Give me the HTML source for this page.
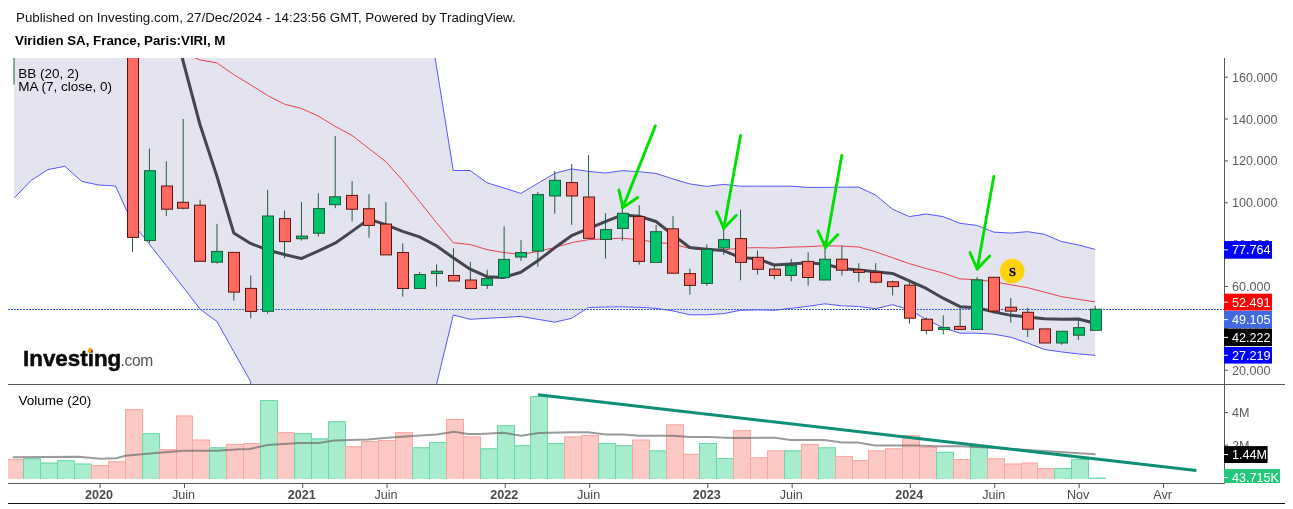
<!DOCTYPE html>
<html><head><meta charset="utf-8"><style>
html,body{margin:0;padding:0;background:#fff;}
body{width:1293px;height:509px;overflow:hidden;position:relative;font-family:"Liberation Sans",sans-serif;}
.t1{position:absolute;left:15.8px;top:9px;font-size:13.35px;color:#111;white-space:nowrap;line-height:17px;}
.t2{position:absolute;left:15px;top:32px;font-size:13.3px;font-weight:bold;color:#000;white-space:nowrap;line-height:17px;}
svg{position:absolute;left:0;top:0;will-change:transform;}
.t1,.t2{will-change:transform;}
</style></head><body>
<div class="t1">Published on Investing.com, 27/Dec/2024 - 14:23:56 GMT, Powered by TradingView.</div>
<div class="t2">Viridien SA, France, Paris:VIRI, M</div>
<svg width="1293" height="509" viewBox="0 0 1293 509">
<defs><clipPath id="pc"><rect x="8" y="58" width="1216" height="326"/></clipPath><clipPath id="vc"><rect x="8" y="385" width="1216" height="98"/></clipPath></defs>
<g clip-path="url(#pc)">
<polygon fill="#e4e4f1" points="14.15,-300.00 31.04,-300.00 47.93,-300.00 64.82,-300.00 81.71,-300.00 98.60,-300.00 115.49,-300.00 132.38,-300.00 149.27,-300.00 166.16,-300.00 183.05,-300.00 199.94,-300.00 216.83,-300.00 233.72,-300.00 250.61,-300.00 267.50,-300.00 284.39,-300.00 301.28,-300.00 318.17,-300.00 335.06,-300.00 351.95,-300.00 368.84,-300.00 385.73,-300.00 402.62,-300.00 419.51,-38.00 436.40,66.00 453.29,170.50 470.18,170.50 487.07,182.80 503.96,188.00 520.85,193.40 537.74,183.40 554.63,173.40 571.52,168.90 588.41,171.40 605.30,173.00 622.19,170.70 639.08,171.70 655.97,173.40 672.86,178.90 689.75,183.90 706.64,186.40 723.53,184.40 740.42,186.20 757.31,186.20 774.20,186.20 791.09,186.20 807.98,187.40 824.87,187.40 841.76,187.20 858.65,187.10 875.54,195.00 892.43,209.10 909.32,216.60 926.21,214.00 943.10,216.60 959.99,223.30 976.88,225.40 993.77,232.10 1010.66,233.10 1027.55,231.70 1044.44,234.30 1061.33,241.50 1078.22,244.90 1095.11,249.40 1095.11,355.40 1078.22,353.90 1061.33,351.90 1044.44,349.50 1027.55,343.00 1010.66,337.20 993.77,334.20 976.88,333.20 959.99,333.20 943.10,327.70 926.21,319.50 909.32,309.60 892.43,304.70 875.54,308.70 858.65,306.50 841.76,305.80 824.87,303.80 807.98,306.30 791.09,308.30 774.20,310.30 757.31,309.90 740.42,310.30 723.53,313.60 706.64,314.80 689.75,314.80 672.86,310.90 655.97,308.30 639.08,307.30 622.19,306.90 605.30,307.00 588.41,307.50 571.52,318.30 554.63,322.20 537.74,319.30 520.85,316.40 503.96,317.40 487.07,318.30 470.18,319.30 453.29,315.00 436.40,385.00 419.51,600.00 402.62,600.00 385.73,600.00 368.84,600.00 351.95,600.00 335.06,600.00 318.17,600.00 301.28,600.00 284.39,600.00 267.50,600.00 250.61,381.50 233.72,351.50 216.83,321.40 199.94,309.00 183.05,287.00 166.16,265.50 149.27,244.00 132.38,223.00 115.49,186.00 98.60,185.00 81.71,181.40 64.82,166.30 47.93,169.60 31.04,180.50 14.15,198.10"/>
<line x1="8" y1="309.5" x2="1224" y2="309.5" stroke="#3d62e2" stroke-width="1" stroke-dasharray="2,1"/>
<polyline fill="none" stroke="#5555ff" stroke-width="1" points="419.51,-38.00 436.40,66.00 453.29,170.50 470.18,170.50 487.07,182.80 503.96,188.00 520.85,193.40 537.74,183.40 554.63,173.40 571.52,168.90 588.41,171.40 605.30,173.00 622.19,170.70 639.08,171.70 655.97,173.40 672.86,178.90 689.75,183.90 706.64,186.40 723.53,184.40 740.42,186.20 757.31,186.20 774.20,186.20 791.09,186.20 807.98,187.40 824.87,187.40 841.76,187.20 858.65,187.10 875.54,195.00 892.43,209.10 909.32,216.60 926.21,214.00 943.10,216.60 959.99,223.30 976.88,225.40 993.77,232.10 1010.66,233.10 1027.55,231.70 1044.44,234.30 1061.33,241.50 1078.22,244.90 1095.11,249.40"/>
<polyline fill="none" stroke="#5555ff" stroke-width="1" points="14.15,198.10 31.04,180.50 47.93,169.60 64.82,166.30 81.71,181.40 98.60,185.00 115.49,186.00 132.38,223.00 149.27,244.00 166.16,265.50 183.05,287.00 199.94,309.00 216.83,321.40 233.72,351.50 250.61,381.50 267.50,600.00 284.39,600.00 301.28,600.00 318.17,600.00 335.06,600.00 351.95,600.00 368.84,600.00 385.73,600.00 402.62,600.00 419.51,600.00 436.40,385.00 453.29,315.00 470.18,319.30 487.07,318.30 503.96,317.40 520.85,316.40 537.74,319.30 554.63,322.20 571.52,318.30 588.41,307.50 605.30,307.00 622.19,306.90 639.08,307.30 655.97,308.30 672.86,310.90 689.75,314.80 706.64,314.80 723.53,313.60 740.42,310.30 757.31,309.90 774.20,310.30 791.09,308.30 807.98,306.30 824.87,303.80 841.76,305.80 858.65,306.50 875.54,308.70 892.43,304.70 909.32,309.60 926.21,319.50 943.10,327.70 959.99,333.20 976.88,333.20 993.77,334.20 1010.66,337.20 1027.55,343.00 1044.44,349.50 1061.33,351.90 1078.22,353.90 1095.11,355.40"/>
<polyline fill="none" stroke="#e8414a" stroke-width="1" points="166.16,40.00 183.05,53.00 199.94,59.90 216.83,62.90 233.72,74.60 250.61,84.80 267.50,95.50 284.39,104.10 301.28,108.40 318.17,116.00 335.06,126.30 351.95,135.40 368.84,148.50 385.73,161.60 402.62,180.30 419.51,201.50 436.40,222.50 453.29,242.70 470.18,244.60 487.07,249.60 503.96,252.50 520.85,254.50 537.74,251.50 554.63,247.60 571.52,242.70 588.41,239.70 605.30,238.80 622.19,238.20 639.08,239.80 655.97,242.20 672.86,244.10 689.75,248.40 706.64,250.00 723.53,250.00 740.42,248.00 757.31,247.70 774.20,248.00 791.09,247.10 807.98,246.70 824.87,245.70 841.76,246.10 858.65,247.00 875.54,251.80 892.43,257.70 909.32,263.60 926.21,268.50 943.10,273.00 959.99,278.90 976.88,279.70 993.77,281.70 1010.66,284.80 1027.55,287.70 1044.44,292.10 1061.33,296.60 1078.22,299.30 1095.11,301.90"/>
<polyline fill="none" stroke="#45454f" stroke-width="3" stroke-linejoin="round" points="166.16,-10.00 183.05,61.00 199.94,124.50 216.83,176.00 233.72,232.90 250.61,243.47 267.50,249.94 284.39,254.57 301.28,258.56 318.17,251.03 335.06,243.23 351.95,231.39 368.84,219.10 385.73,224.66 402.62,231.36 419.51,236.84 436.40,245.79 453.29,257.81 470.18,269.14 487.07,276.74 503.96,277.39 520.85,272.24 537.74,260.83 554.63,247.84 571.52,235.70 588.41,228.53 605.30,221.53 622.19,214.94 639.08,216.21 655.97,221.51 672.86,234.79 689.75,247.56 706.64,249.14 723.53,250.57 740.42,257.59 757.31,258.71 774.20,264.97 791.09,263.90 807.98,262.77 824.87,264.17 841.76,268.54 858.65,269.97 875.54,271.81 892.43,273.40 909.32,280.90 926.21,288.46 943.10,298.20 959.99,306.66 976.88,307.73 993.77,311.86 1010.66,315.36 1027.55,316.93 1044.44,318.73 1061.33,319.29 1078.22,319.03 1095.11,323.21"/>
<line x1="132.53" y1="0.00" x2="132.53" y2="252.00" stroke="#245a3a" stroke-width="1"/>
<line x1="149.42" y1="148.50" x2="149.42" y2="242.80" stroke="#245a3a" stroke-width="1"/>
<line x1="166.31" y1="161.40" x2="166.31" y2="215.90" stroke="#245a3a" stroke-width="1"/>
<line x1="183.2" y1="118.90" x2="183.2" y2="209.20" stroke="#245a3a" stroke-width="1"/>
<line x1="200.09" y1="199.70" x2="200.09" y2="261.30" stroke="#245a3a" stroke-width="1"/>
<line x1="216.98" y1="223.90" x2="216.98" y2="263.60" stroke="#245a3a" stroke-width="1"/>
<line x1="233.87" y1="252.40" x2="233.87" y2="300.60" stroke="#245a3a" stroke-width="1"/>
<line x1="250.76" y1="275.40" x2="250.76" y2="318.30" stroke="#245a3a" stroke-width="1"/>
<line x1="267.65" y1="189.90" x2="267.65" y2="313.70" stroke="#245a3a" stroke-width="1"/>
<line x1="284.54" y1="210.50" x2="284.54" y2="258.30" stroke="#245a3a" stroke-width="1"/>
<line x1="301.43" y1="202.10" x2="301.43" y2="240.60" stroke="#245a3a" stroke-width="1"/>
<line x1="318.32" y1="193.30" x2="318.32" y2="236.70" stroke="#245a3a" stroke-width="1"/>
<line x1="335.21" y1="136.10" x2="335.21" y2="208.20" stroke="#245a3a" stroke-width="1"/>
<line x1="352.1" y1="181.10" x2="352.1" y2="221.40" stroke="#245a3a" stroke-width="1"/>
<line x1="368.99" y1="194.10" x2="368.99" y2="237.70" stroke="#245a3a" stroke-width="1"/>
<line x1="385.88" y1="201.90" x2="385.88" y2="254.90" stroke="#245a3a" stroke-width="1"/>
<line x1="402.77" y1="243.30" x2="402.77" y2="296.70" stroke="#245a3a" stroke-width="1"/>
<line x1="419.66" y1="272.20" x2="419.66" y2="288.50" stroke="#245a3a" stroke-width="1"/>
<line x1="436.55" y1="264.30" x2="436.55" y2="286.50" stroke="#245a3a" stroke-width="1"/>
<line x1="453.44" y1="248.20" x2="453.44" y2="281.00" stroke="#245a3a" stroke-width="1"/>
<line x1="470.33" y1="262.00" x2="470.33" y2="288.50" stroke="#245a3a" stroke-width="1"/>
<line x1="487.22" y1="269.80" x2="487.22" y2="288.90" stroke="#245a3a" stroke-width="1"/>
<line x1="504.11" y1="226.40" x2="504.11" y2="277.70" stroke="#245a3a" stroke-width="1"/>
<line x1="521.0" y1="240.10" x2="521.0" y2="261.00" stroke="#245a3a" stroke-width="1"/>
<line x1="537.89" y1="192.00" x2="537.89" y2="266.80" stroke="#245a3a" stroke-width="1"/>
<line x1="554.78" y1="171.00" x2="554.78" y2="213.70" stroke="#245a3a" stroke-width="1"/>
<line x1="571.67" y1="164.00" x2="571.67" y2="224.90" stroke="#245a3a" stroke-width="1"/>
<line x1="588.56" y1="155.10" x2="588.56" y2="238.30" stroke="#245a3a" stroke-width="1"/>
<line x1="605.45" y1="213.10" x2="605.45" y2="258.50" stroke="#245a3a" stroke-width="1"/>
<line x1="622.34" y1="202.90" x2="622.34" y2="240.80" stroke="#245a3a" stroke-width="1"/>
<line x1="639.23" y1="205.10" x2="639.23" y2="264.70" stroke="#245a3a" stroke-width="1"/>
<line x1="656.12" y1="225.10" x2="656.12" y2="262.40" stroke="#245a3a" stroke-width="1"/>
<line x1="673.01" y1="216.20" x2="673.01" y2="273.20" stroke="#245a3a" stroke-width="1"/>
<line x1="689.9" y1="268.70" x2="689.9" y2="294.60" stroke="#245a3a" stroke-width="1"/>
<line x1="706.79" y1="244.50" x2="706.79" y2="285.80" stroke="#245a3a" stroke-width="1"/>
<line x1="723.68" y1="226.40" x2="723.68" y2="254.90" stroke="#245a3a" stroke-width="1"/>
<line x1="740.57" y1="209.60" x2="740.57" y2="280.30" stroke="#245a3a" stroke-width="1"/>
<line x1="757.46" y1="250.40" x2="757.46" y2="274.50" stroke="#245a3a" stroke-width="1"/>
<line x1="774.35" y1="264.70" x2="774.35" y2="279.20" stroke="#245a3a" stroke-width="1"/>
<line x1="791.24" y1="258.90" x2="791.24" y2="281.30" stroke="#245a3a" stroke-width="1"/>
<line x1="808.13" y1="252.40" x2="808.13" y2="285.60" stroke="#245a3a" stroke-width="1"/>
<line x1="825.02" y1="240.60" x2="825.02" y2="280.00" stroke="#245a3a" stroke-width="1"/>
<line x1="841.91" y1="245.70" x2="841.91" y2="275.60" stroke="#245a3a" stroke-width="1"/>
<line x1="858.8" y1="263.20" x2="858.8" y2="282.20" stroke="#245a3a" stroke-width="1"/>
<line x1="875.69" y1="263.20" x2="875.69" y2="283.60" stroke="#245a3a" stroke-width="1"/>
<line x1="892.58" y1="280.70" x2="892.58" y2="295.40" stroke="#245a3a" stroke-width="1"/>
<line x1="909.47" y1="282.20" x2="909.47" y2="323.60" stroke="#245a3a" stroke-width="1"/>
<line x1="926.36" y1="317.60" x2="926.36" y2="334.50" stroke="#245a3a" stroke-width="1"/>
<line x1="943.25" y1="315.30" x2="943.25" y2="334.50" stroke="#245a3a" stroke-width="1"/>
<line x1="960.14" y1="307.80" x2="960.14" y2="329.40" stroke="#245a3a" stroke-width="1"/>
<line x1="977.03" y1="276.90" x2="977.03" y2="329.40" stroke="#245a3a" stroke-width="1"/>
<line x1="993.92" y1="276.90" x2="993.92" y2="313.70" stroke="#245a3a" stroke-width="1"/>
<line x1="1010.81" y1="298.00" x2="1010.81" y2="322.50" stroke="#245a3a" stroke-width="1"/>
<line x1="1027.7" y1="307.80" x2="1027.7" y2="337.00" stroke="#245a3a" stroke-width="1"/>
<line x1="1044.59" y1="328.90" x2="1044.59" y2="343.00" stroke="#245a3a" stroke-width="1"/>
<line x1="1061.48" y1="331.30" x2="1061.48" y2="344.60" stroke="#245a3a" stroke-width="1"/>
<line x1="1078.37" y1="319.50" x2="1078.37" y2="340.10" stroke="#245a3a" stroke-width="1"/>
<line x1="1095.26" y1="305.70" x2="1095.26" y2="330.30" stroke="#245a3a" stroke-width="1"/>
<rect x="127.5" y="0.00" width="11" height="237.40" fill="#ff6a60" stroke="#5c140f" stroke-width="1"/>
<rect x="144.5" y="170.70" width="11" height="69.70" fill="#00c46c" stroke="#1f5a3a" stroke-width="1"/>
<rect x="161.5" y="186.00" width="11" height="23.20" fill="#ff6a60" stroke="#5c140f" stroke-width="1"/>
<rect x="177.5" y="202.30" width="11" height="5.90" fill="#ff6a60" stroke="#5c140f" stroke-width="1"/>
<rect x="194.5" y="205.20" width="11" height="56.10" fill="#ff6a60" stroke="#5c140f" stroke-width="1"/>
<rect x="211.5" y="251.40" width="11" height="10.80" fill="#00c46c" stroke="#1f5a3a" stroke-width="1"/>
<rect x="228.5" y="252.40" width="11" height="39.70" fill="#ff6a60" stroke="#5c140f" stroke-width="1"/>
<rect x="245.5" y="288.40" width="11" height="23.00" fill="#ff6a60" stroke="#5c140f" stroke-width="1"/>
<rect x="262.5" y="216.00" width="11" height="95.30" fill="#00c46c" stroke="#1f5a3a" stroke-width="1"/>
<rect x="279.5" y="218.60" width="11" height="23.00" fill="#ff6a60" stroke="#5c140f" stroke-width="1"/>
<rect x="296.5" y="236.10" width="11" height="2.60" fill="#00c46c" stroke="#1f5a3a" stroke-width="1"/>
<rect x="313.5" y="208.60" width="11" height="24.60" fill="#00c46c" stroke="#1f5a3a" stroke-width="1"/>
<rect x="329.5" y="196.80" width="11" height="7.90" fill="#00c46c" stroke="#1f5a3a" stroke-width="1"/>
<rect x="346.5" y="195.40" width="11" height="13.80" fill="#ff6a60" stroke="#5c140f" stroke-width="1"/>
<rect x="363.5" y="208.70" width="11" height="16.70" fill="#ff6a60" stroke="#5c140f" stroke-width="1"/>
<rect x="380.5" y="224.10" width="11" height="30.80" fill="#ff6a60" stroke="#5c140f" stroke-width="1"/>
<rect x="397.5" y="252.50" width="11" height="36.00" fill="#ff6a60" stroke="#5c140f" stroke-width="1"/>
<rect x="414.5" y="274.50" width="11" height="14.00" fill="#00c46c" stroke="#1f5a3a" stroke-width="1"/>
<rect x="431.5" y="271.20" width="11" height="2.30" fill="#00c46c" stroke="#1f5a3a" stroke-width="1"/>
<rect x="448.5" y="275.50" width="11" height="5.50" fill="#ff6a60" stroke="#5c140f" stroke-width="1"/>
<rect x="465.5" y="280.00" width="11" height="8.50" fill="#ff6a60" stroke="#5c140f" stroke-width="1"/>
<rect x="481.5" y="278.60" width="11" height="6.70" fill="#00c46c" stroke="#1f5a3a" stroke-width="1"/>
<rect x="498.5" y="259.40" width="11" height="18.30" fill="#00c46c" stroke="#1f5a3a" stroke-width="1"/>
<rect x="515.5" y="252.50" width="11" height="4.50" fill="#00c46c" stroke="#1f5a3a" stroke-width="1"/>
<rect x="532.5" y="194.60" width="11" height="56.50" fill="#00c46c" stroke="#1f5a3a" stroke-width="1"/>
<rect x="549.5" y="180.30" width="11" height="15.70" fill="#00c46c" stroke="#1f5a3a" stroke-width="1"/>
<rect x="566.5" y="182.60" width="11" height="13.40" fill="#ff6a60" stroke="#5c140f" stroke-width="1"/>
<rect x="583.5" y="197.00" width="11" height="41.30" fill="#ff6a60" stroke="#5c140f" stroke-width="1"/>
<rect x="600.5" y="229.60" width="11" height="9.90" fill="#00c46c" stroke="#1f5a3a" stroke-width="1"/>
<rect x="617.5" y="213.30" width="11" height="15.10" fill="#00c46c" stroke="#1f5a3a" stroke-width="1"/>
<rect x="633.5" y="216.50" width="11" height="44.90" fill="#ff6a60" stroke="#5c140f" stroke-width="1"/>
<rect x="650.5" y="231.70" width="11" height="30.70" fill="#00c46c" stroke="#1f5a3a" stroke-width="1"/>
<rect x="667.5" y="228.80" width="11" height="44.40" fill="#ff6a60" stroke="#5c140f" stroke-width="1"/>
<rect x="684.5" y="273.60" width="11" height="11.80" fill="#ff6a60" stroke="#5c140f" stroke-width="1"/>
<rect x="701.5" y="249.40" width="11" height="34.00" fill="#00c46c" stroke="#1f5a3a" stroke-width="1"/>
<rect x="718.5" y="239.60" width="11" height="8.40" fill="#00c46c" stroke="#1f5a3a" stroke-width="1"/>
<rect x="735.5" y="238.60" width="11" height="23.80" fill="#ff6a60" stroke="#5c140f" stroke-width="1"/>
<rect x="752.5" y="257.30" width="11" height="12.00" fill="#ff6a60" stroke="#5c140f" stroke-width="1"/>
<rect x="769.5" y="269.10" width="11" height="6.40" fill="#ff6a60" stroke="#5c140f" stroke-width="1"/>
<rect x="785.5" y="265.70" width="11" height="9.80" fill="#00c46c" stroke="#1f5a3a" stroke-width="1"/>
<rect x="802.5" y="261.40" width="11" height="16.10" fill="#ff6a60" stroke="#5c140f" stroke-width="1"/>
<rect x="819.5" y="259.20" width="11" height="20.80" fill="#00c46c" stroke="#1f5a3a" stroke-width="1"/>
<rect x="836.5" y="259.20" width="11" height="11.00" fill="#ff6a60" stroke="#5c140f" stroke-width="1"/>
<rect x="853.5" y="269.90" width="11" height="2.50" fill="#ff6a60" stroke="#5c140f" stroke-width="1"/>
<rect x="870.5" y="272.40" width="11" height="9.80" fill="#ff6a60" stroke="#5c140f" stroke-width="1"/>
<rect x="887.5" y="281.80" width="11" height="4.80" fill="#ff6a60" stroke="#5c140f" stroke-width="1"/>
<rect x="904.5" y="285.20" width="11" height="33.00" fill="#ff6a60" stroke="#5c140f" stroke-width="1"/>
<rect x="921.5" y="319.20" width="11" height="11.20" fill="#ff6a60" stroke="#5c140f" stroke-width="1"/>
<rect x="938.5" y="327.40" width="11" height="2.00" fill="#00c46c" stroke="#1f5a3a" stroke-width="1"/>
<rect x="954.5" y="326.40" width="11" height="3.00" fill="#ff6a60" stroke="#5c140f" stroke-width="1"/>
<rect x="971.5" y="279.90" width="11" height="49.50" fill="#00c46c" stroke="#1f5a3a" stroke-width="1"/>
<rect x="988.5" y="277.30" width="11" height="33.80" fill="#ff6a60" stroke="#5c140f" stroke-width="1"/>
<rect x="1005.5" y="307.20" width="11" height="3.90" fill="#ff6a60" stroke="#5c140f" stroke-width="1"/>
<rect x="1022.5" y="312.30" width="11" height="16.90" fill="#ff6a60" stroke="#5c140f" stroke-width="1"/>
<rect x="1039.5" y="328.90" width="11" height="14.10" fill="#ff6a60" stroke="#5c140f" stroke-width="1"/>
<rect x="1056.5" y="331.30" width="11" height="11.70" fill="#00c46c" stroke="#1f5a3a" stroke-width="1"/>
<rect x="1073.5" y="327.60" width="11" height="7.60" fill="#00c46c" stroke="#1f5a3a" stroke-width="1"/>
<rect x="1090.5" y="309.20" width="11" height="21.10" fill="#00c46c" stroke="#1f5a3a" stroke-width="1"/>
<line x1="14" y1="58" x2="14" y2="84.6" stroke="#245a3a" stroke-width="1"/>
</g>
<line x1="655.40" y1="125.80" x2="622.80" y2="207.60" stroke="#00e000" stroke-width="2.9" stroke-linecap="round"/><line x1="622.80" y1="207.60" x2="637.67" y2="197.46" stroke="#00e000" stroke-width="2.9" stroke-linecap="round"/><line x1="622.80" y1="207.60" x2="618.97" y2="190.01" stroke="#00e000" stroke-width="2.9" stroke-linecap="round"/>
<line x1="740.60" y1="135.40" x2="723.80" y2="228.20" stroke="#00e000" stroke-width="2.9" stroke-linecap="round"/><line x1="723.80" y1="228.20" x2="736.36" y2="215.31" stroke="#00e000" stroke-width="2.9" stroke-linecap="round"/><line x1="723.80" y1="228.20" x2="716.55" y2="211.72" stroke="#00e000" stroke-width="2.9" stroke-linecap="round"/>
<line x1="841.80" y1="155.40" x2="825.40" y2="247.50" stroke="#00e000" stroke-width="2.9" stroke-linecap="round"/><line x1="825.40" y1="247.50" x2="837.93" y2="234.57" stroke="#00e000" stroke-width="2.9" stroke-linecap="round"/><line x1="825.40" y1="247.50" x2="818.11" y2="231.04" stroke="#00e000" stroke-width="2.9" stroke-linecap="round"/>
<line x1="993.80" y1="176.50" x2="977.20" y2="269.00" stroke="#00e000" stroke-width="2.9" stroke-linecap="round"/><line x1="977.20" y1="269.00" x2="989.74" y2="256.09" stroke="#00e000" stroke-width="2.9" stroke-linecap="round"/><line x1="977.20" y1="269.00" x2="969.93" y2="252.53" stroke="#00e000" stroke-width="2.9" stroke-linecap="round"/>
<circle cx="1012.2" cy="271.1" r="12.3" fill="#ffd30a"/>
<text x="1012.4" y="275.6" font-family="Liberation Serif" font-weight="bold" font-size="12.5" text-anchor="middle" fill="#000" stroke="#000" stroke-width="0.35">S</text>
<text x="18.2" y="77.9" font-family="Liberation Sans" font-size="13.5" fill="#000">BB (20, 2)</text>
<text x="18.2" y="90.9" font-family="Liberation Sans" font-size="13.5" fill="#000">MA (7, close, 0)</text>
<text x="23" y="366" font-family="Liberation Sans" font-weight="bold" font-size="21.5" textLength="98.3" lengthAdjust="spacingAndGlyphs" fill="#0a0a0a" stroke="#0a0a0a" stroke-width="0.5">Investing</text>
<text x="120.6" y="366" font-family="Liberation Sans" font-size="15.6" letter-spacing="-0.4" fill="#555">.com</text>
<ellipse cx="89.9" cy="350.2" rx="1.9" ry="2.7" transform="rotate(25 89.9 350.2)" fill="#f7a000"/>
<line x1="8" y1="384.5" x2="1285" y2="384.5" stroke="#555" stroke-width="1"/>
<line x1="1224.5" y1="58" x2="1224.5" y2="483.5" stroke="#555" stroke-width="1"/>
<line x1="8" y1="483.5" x2="1224.5" y2="483.5" stroke="#555" stroke-width="1"/>
<line x1="8" y1="503.5" x2="1285" y2="503.5" stroke="#111" stroke-width="1"/>
<g clip-path="url(#vc)">
<rect x="7" y="459.10" width="17" height="19.90" fill="#fdc9c5"/>
<polyline fill="none" stroke="#f8a8a1" stroke-width="1" points="7.5,479 7.5,459.60 23.5,459.60 23.5,479"/>
<rect x="23" y="458.30" width="18" height="20.70" fill="#a8ecce"/>
<polyline fill="none" stroke="#6ad8a4" stroke-width="1" points="23.5,479 23.5,458.80 40.5,458.80 40.5,479"/>
<rect x="40" y="462.60" width="18" height="16.40" fill="#a8ecce"/>
<polyline fill="none" stroke="#6ad8a4" stroke-width="1" points="40.5,479 40.5,463.10 57.5,463.10 57.5,479"/>
<rect x="57" y="460.20" width="18" height="18.80" fill="#a8ecce"/>
<polyline fill="none" stroke="#6ad8a4" stroke-width="1" points="57.5,479 57.5,460.70 74.5,460.70 74.5,479"/>
<rect x="74" y="463.60" width="18" height="15.40" fill="#a8ecce"/>
<polyline fill="none" stroke="#6ad8a4" stroke-width="1" points="74.5,479 74.5,464.10 91.5,464.10 91.5,479"/>
<rect x="91" y="465.00" width="18" height="14.00" fill="#fdc9c5"/>
<polyline fill="none" stroke="#f8a8a1" stroke-width="1" points="91.5,479 91.5,465.50 108.5,465.50 108.5,479"/>
<rect x="108" y="461.20" width="18" height="17.80" fill="#fdc9c5"/>
<polyline fill="none" stroke="#f8a8a1" stroke-width="1" points="108.5,479 108.5,461.70 125.5,461.70 125.5,479"/>
<rect x="125" y="409.20" width="18" height="69.80" fill="#fdc9c5"/>
<polyline fill="none" stroke="#f8a8a1" stroke-width="1" points="125.5,479 125.5,409.70 142.5,409.70 142.5,479"/>
<rect x="142" y="433.10" width="18" height="45.90" fill="#a8ecce"/>
<polyline fill="none" stroke="#6ad8a4" stroke-width="1" points="142.5,479 142.5,433.60 159.5,433.60 159.5,479"/>
<rect x="159" y="449.20" width="18" height="29.80" fill="#fdc9c5"/>
<polyline fill="none" stroke="#f8a8a1" stroke-width="1" points="159.5,479 159.5,449.70 176.5,449.70 176.5,479"/>
<rect x="176" y="415.50" width="17" height="63.50" fill="#fdc9c5"/>
<polyline fill="none" stroke="#f8a8a1" stroke-width="1" points="176.5,479 176.5,416.00 192.5,416.00 192.5,479"/>
<rect x="192" y="439.60" width="18" height="39.40" fill="#fdc9c5"/>
<polyline fill="none" stroke="#f8a8a1" stroke-width="1" points="192.5,479 192.5,440.10 209.5,440.10 209.5,479"/>
<rect x="209" y="447.30" width="18" height="31.70" fill="#a8ecce"/>
<polyline fill="none" stroke="#6ad8a4" stroke-width="1" points="209.5,479 209.5,447.80 226.5,447.80 226.5,479"/>
<rect x="226" y="443.90" width="18" height="35.10" fill="#fdc9c5"/>
<polyline fill="none" stroke="#f8a8a1" stroke-width="1" points="226.5,479 226.5,444.40 243.5,444.40 243.5,479"/>
<rect x="243" y="443.00" width="18" height="36.00" fill="#fdc9c5"/>
<polyline fill="none" stroke="#f8a8a1" stroke-width="1" points="243.5,479 243.5,443.50 260.5,443.50 260.5,479"/>
<rect x="260" y="400.10" width="18" height="78.90" fill="#a8ecce"/>
<polyline fill="none" stroke="#6ad8a4" stroke-width="1" points="260.5,479 260.5,400.60 277.5,400.60 277.5,479"/>
<rect x="277" y="432.20" width="18" height="46.80" fill="#fdc9c5"/>
<polyline fill="none" stroke="#f8a8a1" stroke-width="1" points="277.5,479 277.5,432.70 294.5,432.70 294.5,479"/>
<rect x="294" y="433.10" width="18" height="45.90" fill="#a8ecce"/>
<polyline fill="none" stroke="#6ad8a4" stroke-width="1" points="294.5,479 294.5,433.60 311.5,433.60 311.5,479"/>
<rect x="311" y="438.40" width="18" height="40.60" fill="#a8ecce"/>
<polyline fill="none" stroke="#6ad8a4" stroke-width="1" points="311.5,479 311.5,438.90 328.5,438.90 328.5,479"/>
<rect x="328" y="421.30" width="18" height="57.70" fill="#a8ecce"/>
<polyline fill="none" stroke="#6ad8a4" stroke-width="1" points="328.5,479 328.5,421.80 345.5,421.80 345.5,479"/>
<rect x="345" y="446.30" width="17" height="32.70" fill="#fdc9c5"/>
<polyline fill="none" stroke="#f8a8a1" stroke-width="1" points="345.5,479 345.5,446.80 361.5,446.80 361.5,479"/>
<rect x="361" y="441.00" width="18" height="38.00" fill="#fdc9c5"/>
<polyline fill="none" stroke="#f8a8a1" stroke-width="1" points="361.5,479 361.5,441.50 378.5,441.50 378.5,479"/>
<rect x="378" y="440.00" width="18" height="39.00" fill="#fdc9c5"/>
<polyline fill="none" stroke="#f8a8a1" stroke-width="1" points="378.5,479 378.5,440.50 395.5,440.50 395.5,479"/>
<rect x="395" y="432.20" width="18" height="46.80" fill="#fdc9c5"/>
<polyline fill="none" stroke="#f8a8a1" stroke-width="1" points="395.5,479 395.5,432.70 412.5,432.70 412.5,479"/>
<rect x="412" y="447.30" width="18" height="31.70" fill="#a8ecce"/>
<polyline fill="none" stroke="#6ad8a4" stroke-width="1" points="412.5,479 412.5,447.80 429.5,447.80 429.5,479"/>
<rect x="429" y="442.00" width="18" height="37.00" fill="#a8ecce"/>
<polyline fill="none" stroke="#6ad8a4" stroke-width="1" points="429.5,479 429.5,442.50 446.5,442.50 446.5,479"/>
<rect x="446" y="419.00" width="18" height="60.00" fill="#fdc9c5"/>
<polyline fill="none" stroke="#f8a8a1" stroke-width="1" points="446.5,479 446.5,419.50 463.5,419.50 463.5,479"/>
<rect x="463" y="436.50" width="18" height="42.50" fill="#fdc9c5"/>
<polyline fill="none" stroke="#f8a8a1" stroke-width="1" points="463.5,479 463.5,437.00 480.5,437.00 480.5,479"/>
<rect x="480" y="448.30" width="18" height="30.70" fill="#a8ecce"/>
<polyline fill="none" stroke="#6ad8a4" stroke-width="1" points="480.5,479 480.5,448.80 497.5,448.80 497.5,479"/>
<rect x="497" y="425.30" width="18" height="53.70" fill="#a8ecce"/>
<polyline fill="none" stroke="#6ad8a4" stroke-width="1" points="497.5,479 497.5,425.80 514.5,425.80 514.5,479"/>
<rect x="514" y="445.30" width="17" height="33.70" fill="#a8ecce"/>
<polyline fill="none" stroke="#6ad8a4" stroke-width="1" points="514.5,479 514.5,445.80 530.5,445.80 530.5,479"/>
<rect x="530" y="396.20" width="18" height="82.80" fill="#a8ecce"/>
<polyline fill="none" stroke="#6ad8a4" stroke-width="1" points="530.5,479 530.5,396.70 547.5,396.70 547.5,479"/>
<rect x="547" y="443.00" width="18" height="36.00" fill="#a8ecce"/>
<polyline fill="none" stroke="#6ad8a4" stroke-width="1" points="547.5,479 547.5,443.50 564.5,443.50 564.5,479"/>
<rect x="564" y="436.50" width="18" height="42.50" fill="#fdc9c5"/>
<polyline fill="none" stroke="#f8a8a1" stroke-width="1" points="564.5,479 564.5,437.00 581.5,437.00 581.5,479"/>
<rect x="581" y="435.10" width="18" height="43.90" fill="#fdc9c5"/>
<polyline fill="none" stroke="#f8a8a1" stroke-width="1" points="581.5,479 581.5,435.60 598.5,435.60 598.5,479"/>
<rect x="598" y="443.00" width="18" height="36.00" fill="#a8ecce"/>
<polyline fill="none" stroke="#6ad8a4" stroke-width="1" points="598.5,479 598.5,443.50 615.5,443.50 615.5,479"/>
<rect x="615" y="445.30" width="18" height="33.70" fill="#a8ecce"/>
<polyline fill="none" stroke="#6ad8a4" stroke-width="1" points="615.5,479 615.5,445.80 632.5,445.80 632.5,479"/>
<rect x="632" y="439.60" width="18" height="39.40" fill="#fdc9c5"/>
<polyline fill="none" stroke="#f8a8a1" stroke-width="1" points="632.5,479 632.5,440.10 649.5,440.10 649.5,479"/>
<rect x="649" y="450.40" width="18" height="28.60" fill="#a8ecce"/>
<polyline fill="none" stroke="#6ad8a4" stroke-width="1" points="649.5,479 649.5,450.90 666.5,450.90 666.5,479"/>
<rect x="666" y="424.30" width="18" height="54.70" fill="#fdc9c5"/>
<polyline fill="none" stroke="#f8a8a1" stroke-width="1" points="666.5,479 666.5,424.80 683.5,424.80 683.5,479"/>
<rect x="683" y="453.80" width="17" height="25.20" fill="#fdc9c5"/>
<polyline fill="none" stroke="#f8a8a1" stroke-width="1" points="683.5,479 683.5,454.30 699.5,454.30 699.5,479"/>
<rect x="699" y="443.00" width="18" height="36.00" fill="#a8ecce"/>
<polyline fill="none" stroke="#6ad8a4" stroke-width="1" points="699.5,479 699.5,443.50 716.5,443.50 716.5,479"/>
<rect x="716" y="458.10" width="18" height="20.90" fill="#a8ecce"/>
<polyline fill="none" stroke="#6ad8a4" stroke-width="1" points="716.5,479 716.5,458.60 733.5,458.60 733.5,479"/>
<rect x="733" y="430.20" width="18" height="48.80" fill="#fdc9c5"/>
<polyline fill="none" stroke="#f8a8a1" stroke-width="1" points="733.5,479 733.5,430.70 750.5,430.70 750.5,479"/>
<rect x="750" y="457.30" width="18" height="21.70" fill="#fdc9c5"/>
<polyline fill="none" stroke="#f8a8a1" stroke-width="1" points="750.5,479 750.5,457.80 767.5,457.80 767.5,479"/>
<rect x="767" y="450.40" width="18" height="28.60" fill="#fdc9c5"/>
<polyline fill="none" stroke="#f8a8a1" stroke-width="1" points="767.5,479 767.5,450.90 784.5,450.90 784.5,479"/>
<rect x="784" y="450.40" width="18" height="28.60" fill="#a8ecce"/>
<polyline fill="none" stroke="#6ad8a4" stroke-width="1" points="784.5,479 784.5,450.90 801.5,450.90 801.5,479"/>
<rect x="801" y="443.90" width="18" height="35.10" fill="#fdc9c5"/>
<polyline fill="none" stroke="#f8a8a1" stroke-width="1" points="801.5,479 801.5,444.40 818.5,444.40 818.5,479"/>
<rect x="818" y="447.30" width="18" height="31.70" fill="#a8ecce"/>
<polyline fill="none" stroke="#6ad8a4" stroke-width="1" points="818.5,479 818.5,447.80 835.5,447.80 835.5,479"/>
<rect x="835" y="456.10" width="18" height="22.90" fill="#fdc9c5"/>
<polyline fill="none" stroke="#f8a8a1" stroke-width="1" points="835.5,479 835.5,456.60 852.5,456.60 852.5,479"/>
<rect x="852" y="460.00" width="17" height="19.00" fill="#fdc9c5"/>
<polyline fill="none" stroke="#f8a8a1" stroke-width="1" points="852.5,479 852.5,460.50 868.5,460.50 868.5,479"/>
<rect x="868" y="450.40" width="18" height="28.60" fill="#fdc9c5"/>
<polyline fill="none" stroke="#f8a8a1" stroke-width="1" points="868.5,479 868.5,450.90 885.5,450.90 885.5,479"/>
<rect x="885" y="448.30" width="18" height="30.70" fill="#fdc9c5"/>
<polyline fill="none" stroke="#f8a8a1" stroke-width="1" points="885.5,479 885.5,448.80 902.5,448.80 902.5,479"/>
<rect x="902" y="435.10" width="18" height="43.90" fill="#fdc9c5"/>
<polyline fill="none" stroke="#f8a8a1" stroke-width="1" points="902.5,479 902.5,435.60 919.5,435.60 919.5,479"/>
<rect x="919" y="446.90" width="18" height="32.10" fill="#fdc9c5"/>
<polyline fill="none" stroke="#f8a8a1" stroke-width="1" points="919.5,479 919.5,447.40 936.5,447.40 936.5,479"/>
<rect x="936" y="451.80" width="18" height="27.20" fill="#a8ecce"/>
<polyline fill="none" stroke="#6ad8a4" stroke-width="1" points="936.5,479 936.5,452.30 953.5,452.30 953.5,479"/>
<rect x="953" y="459.10" width="18" height="19.90" fill="#fdc9c5"/>
<polyline fill="none" stroke="#f8a8a1" stroke-width="1" points="953.5,479 953.5,459.60 970.5,459.60 970.5,479"/>
<rect x="970" y="445.90" width="18" height="33.10" fill="#a8ecce"/>
<polyline fill="none" stroke="#6ad8a4" stroke-width="1" points="970.5,479 970.5,446.40 987.5,446.40 987.5,479"/>
<rect x="987" y="458.30" width="18" height="20.70" fill="#fdc9c5"/>
<polyline fill="none" stroke="#f8a8a1" stroke-width="1" points="987.5,479 987.5,458.80 1004.5,458.80 1004.5,479"/>
<rect x="1004" y="463.60" width="18" height="15.40" fill="#fdc9c5"/>
<polyline fill="none" stroke="#f8a8a1" stroke-width="1" points="1004.5,479 1004.5,464.10 1021.5,464.10 1021.5,479"/>
<rect x="1021" y="462.60" width="17" height="16.40" fill="#fdc9c5"/>
<polyline fill="none" stroke="#f8a8a1" stroke-width="1" points="1021.5,479 1021.5,463.10 1037.5,463.10 1037.5,479"/>
<rect x="1037" y="468.10" width="18" height="10.90" fill="#fdc9c5"/>
<polyline fill="none" stroke="#f8a8a1" stroke-width="1" points="1037.5,479 1037.5,468.60 1054.5,468.60 1054.5,479"/>
<rect x="1054" y="468.10" width="18" height="10.90" fill="#a8ecce"/>
<polyline fill="none" stroke="#6ad8a4" stroke-width="1" points="1054.5,479 1054.5,468.60 1071.5,468.60 1071.5,479"/>
<rect x="1071" y="459.10" width="18" height="19.90" fill="#a8ecce"/>
<polyline fill="none" stroke="#6ad8a4" stroke-width="1" points="1071.5,479 1071.5,459.60 1088.5,459.60 1088.5,479"/>
<rect x="1088" y="477.70" width="18" height="1.30" fill="#a8ecce"/>
<polyline fill="none" stroke="#6ad8a4" stroke-width="1" points="1088.5,479 1088.5,478.20 1105.5,478.20 1105.5,479"/>
<polyline fill="none" stroke="rgba(100,100,100,0.65)" stroke-width="2" points="12.8,457.3 78.6,456.7 100.2,458.7 115.9,458.3 125.7,455.7 141.5,454.2 159.1,452.8 182.7,450.8 216.1,450.8 240.0,449.2 249.8,448.9 267.5,444.9 298.9,443.0 318.6,443.0 334.3,440.6 367.7,439.6 387.3,437.7 416.8,435.7 436.5,434.5 454.1,431.8 467.9,434.1 480.0,434.1 503.6,432.7 521.3,435.7 538.9,433.1 572.3,432.2 588.1,432.2 605.7,434.5 623.4,434.5 639.1,435.7 672.5,435.7 690.2,437.1 707.9,437.1 734.0,438.0 775.0,437.7 790.7,440.0 824.1,440.0 841.8,442.4 857.5,442.4 875.2,445.5 916.5,445.5 936.1,446.3 960.0,446.3 987.5,447.5 1095.6,454.2"/>
<line x1="538" y1="394.8" x2="1196.4" y2="470.6" stroke="#0b8f76" stroke-width="3" stroke-linecap="butt"/>
</g>
<text x="18.4" y="405.2" font-family="Liberation Sans" font-size="13.5" fill="#000">Volume (20)</text>
<line x1="1224" y1="77.20" x2="1228" y2="77.20" stroke="#555"/>
<text x="1232" y="81.70" font-family="Liberation Sans" font-size="12.6" fill="#5e5e5e">160.000</text>
<line x1="1224" y1="119.06" x2="1228" y2="119.06" stroke="#555"/>
<text x="1232" y="123.56" font-family="Liberation Sans" font-size="12.6" fill="#5e5e5e">140.000</text>
<line x1="1224" y1="160.92" x2="1228" y2="160.92" stroke="#555"/>
<text x="1232" y="165.42" font-family="Liberation Sans" font-size="12.6" fill="#5e5e5e">120.000</text>
<line x1="1224" y1="202.78" x2="1228" y2="202.78" stroke="#555"/>
<text x="1232" y="207.28" font-family="Liberation Sans" font-size="12.6" fill="#5e5e5e">100.000</text>
<line x1="1224" y1="244.64" x2="1228" y2="244.64" stroke="#555"/>
<text x="1232" y="249.14" font-family="Liberation Sans" font-size="12.6" fill="#5e5e5e">80.000</text>
<line x1="1224" y1="286.50" x2="1228" y2="286.50" stroke="#555"/>
<text x="1232" y="291.00" font-family="Liberation Sans" font-size="12.6" fill="#5e5e5e">60.000</text>
<line x1="1224" y1="328.36" x2="1228" y2="328.36" stroke="#555"/>
<text x="1232" y="332.86" font-family="Liberation Sans" font-size="12.6" fill="#5e5e5e">40.000</text>
<line x1="1224" y1="370.22" x2="1228" y2="370.22" stroke="#555"/>
<text x="1232" y="374.72" font-family="Liberation Sans" font-size="12.6" fill="#5e5e5e">20.000</text>
<line x1="1224" y1="412.60" x2="1228" y2="412.60" stroke="#555"/>
<text x="1232" y="417.10" font-family="Liberation Sans" font-size="12.6" fill="#5e5e5e">4M</text>
<line x1="1224" y1="445.20" x2="1228" y2="445.20" stroke="#555"/>
<text x="1232" y="449.70" font-family="Liberation Sans" font-size="12.6" fill="#5e5e5e">2M</text>
<rect x="1224" y="241.00" width="48.00" height="17.70" fill="#0000ff"/><line x1="1224" y1="249.85" x2="1228" y2="249.85" stroke="#fff"/><text x="1232" y="254.35" font-family="Liberation Sans" font-size="12.6" fill="#fff">77.764</text>
<rect x="1224" y="293.70" width="48.00" height="16.90" fill="#ff0000"/><line x1="1224" y1="302.15" x2="1228" y2="302.15" stroke="#fff"/><text x="1232" y="306.65" font-family="Liberation Sans" font-size="12.6" fill="#fff">52.491</text>
<rect x="1224" y="310.90" width="48.00" height="17.40" fill="#4169e1"/><line x1="1224" y1="319.60" x2="1228" y2="319.60" stroke="#fff"/><text x="1232" y="324.10" font-family="Liberation Sans" font-size="12.6" fill="#fff">49.105</text>
<rect x="1224" y="328.60" width="48.00" height="17.50" fill="#000000"/><line x1="1224" y1="337.35" x2="1228" y2="337.35" stroke="#fff"/><text x="1232" y="341.85" font-family="Liberation Sans" font-size="12.6" fill="#fff">42.222</text>
<rect x="1224" y="347.00" width="48.00" height="16.60" fill="#0000ff"/><line x1="1224" y1="355.30" x2="1228" y2="355.30" stroke="#fff"/><text x="1232" y="359.80" font-family="Liberation Sans" font-size="12.6" fill="#fff">27.219</text>
<rect x="1224" y="446.10" width="43.60" height="16.90" fill="#000000"/><line x1="1224" y1="454.55" x2="1228" y2="454.55" stroke="#fff"/><text x="1232" y="459.05" font-family="Liberation Sans" font-size="12.6" fill="#fff">1.44M</text>
<g><clipPath id="lc"><rect x="1224" y="440" width="70" height="43"/></clipPath></g>
<g clip-path="url(#lc)"><rect x="1224" y="469.10" width="56.00" height="16.90" fill="#22c77a"/><line x1="1224" y1="477.55" x2="1228" y2="477.55" stroke="#fff"/><text x="1232" y="482.05" font-family="Liberation Sans" font-size="12.6" fill="#fff">43.715K</text></g>
<line x1="100.10" y1="483.5" x2="100.10" y2="488" stroke="#555"/>
<text x="99.10" y="498.5" text-anchor="middle" font-family="Liberation Sans" font-size="12.6" font-weight="bold" fill="#4a4a4a">2020</text>
<line x1="184.50" y1="483.5" x2="184.50" y2="488" stroke="#555"/>
<text x="183.50" y="498.5" text-anchor="middle" font-family="Liberation Sans" font-size="12.6" font-weight="normal" fill="#4a4a4a">Juin</text>
<line x1="302.66" y1="483.5" x2="302.66" y2="488" stroke="#555"/>
<text x="301.66" y="498.5" text-anchor="middle" font-family="Liberation Sans" font-size="12.6" font-weight="bold" fill="#4a4a4a">2021</text>
<line x1="387.06" y1="483.5" x2="387.06" y2="488" stroke="#555"/>
<text x="386.06" y="498.5" text-anchor="middle" font-family="Liberation Sans" font-size="12.6" font-weight="normal" fill="#4a4a4a">Juin</text>
<line x1="505.22" y1="483.5" x2="505.22" y2="488" stroke="#555"/>
<text x="504.22" y="498.5" text-anchor="middle" font-family="Liberation Sans" font-size="12.6" font-weight="bold" fill="#4a4a4a">2022</text>
<line x1="589.62" y1="483.5" x2="589.62" y2="488" stroke="#555"/>
<text x="588.62" y="498.5" text-anchor="middle" font-family="Liberation Sans" font-size="12.6" font-weight="normal" fill="#4a4a4a">Juin</text>
<line x1="707.78" y1="483.5" x2="707.78" y2="488" stroke="#555"/>
<text x="706.78" y="498.5" text-anchor="middle" font-family="Liberation Sans" font-size="12.6" font-weight="bold" fill="#4a4a4a">2023</text>
<line x1="792.18" y1="483.5" x2="792.18" y2="488" stroke="#555"/>
<text x="791.18" y="498.5" text-anchor="middle" font-family="Liberation Sans" font-size="12.6" font-weight="normal" fill="#4a4a4a">Juin</text>
<line x1="910.34" y1="483.5" x2="910.34" y2="488" stroke="#555"/>
<text x="909.34" y="498.5" text-anchor="middle" font-family="Liberation Sans" font-size="12.6" font-weight="bold" fill="#4a4a4a">2024</text>
<line x1="994.74" y1="483.5" x2="994.74" y2="488" stroke="#555"/>
<text x="993.74" y="498.5" text-anchor="middle" font-family="Liberation Sans" font-size="12.6" font-weight="normal" fill="#4a4a4a">Juin</text>
<line x1="1079.14" y1="483.5" x2="1079.14" y2="488" stroke="#555"/>
<text x="1078.14" y="498.5" text-anchor="middle" font-family="Liberation Sans" font-size="12.6" font-weight="normal" fill="#4a4a4a">Nov</text>
<line x1="1163.54" y1="483.5" x2="1163.54" y2="488" stroke="#555"/>
<text x="1162.54" y="498.5" text-anchor="middle" font-family="Liberation Sans" font-size="12.6" font-weight="normal" fill="#4a4a4a">Avr</text>
</svg>
</body></html>
